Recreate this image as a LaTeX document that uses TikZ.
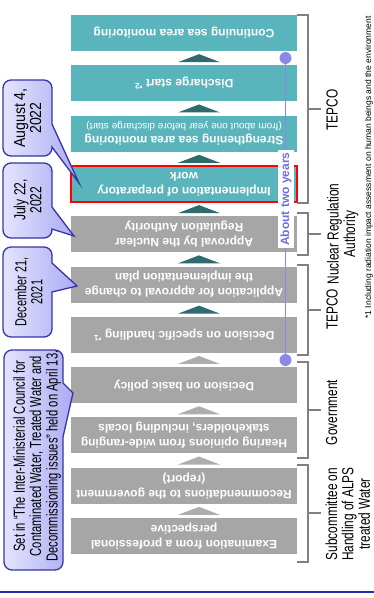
\documentclass[tikz,border=0pt]{standalone}
\usepackage{fontspec}
\setmainfont{Liberation Sans}
\usepackage{graphicx}
\usetikzlibrary{calc}
\definecolor{teal1}{HTML}{5AB4BC}
\definecolor{grey1}{HTML}{A6A6A6}
\definecolor{arrowteal}{HTML}{2E6B6E}
\definecolor{arrowgrey}{HTML}{ADADAD}
\definecolor{brk}{HTML}{808080}
\definecolor{lav}{HTML}{8A8AE6}
\definecolor{lavtext}{HTML}{7070DC}
\definecolor{cobord}{HTML}{3535A8}
\definecolor{coleft}{HTML}{E4E4FF}
\definecolor{coright}{HTML}{ABABF2}
\definecolor{bline}{HTML}{2A2AA2}
\newcommand\condtext[3]{\scalebox{#1}[1]{\fontsize{#2}{#2}\selectfont\begin{tabular}{@{}c@{}}#3\end{tabular}}}
\newcommand\callout[8]{%
 \path[callout] ({#1},{#2+8}) .. controls ({#1},{#2+3.6}) and ({#1+3.6},{#2}) .. ({#1+8},{#2})
  -- ({#3-8},{#2}) .. controls ({#3-3.6},{#2}) and ({#3},{#2+3.6}) .. ({#3},{#2+8})
  -- ({#3},{#5}) -- ({#7},{#8}) -- ({#3},{#6})
  -- ({#3},{#4-8}) .. controls ({#3},{#4-3.6}) and ({#3-3.6},{#4}) .. ({#3-8},{#4})
  -- ({#1+8},{#4}) .. controls ({#1+3.6},{#4}) and ({#1},{#4-3.6}) .. ({#1},{#4-8}) -- cycle;}
\newcommand\uptri[2]{\fill[#2] ($(#1)+(-21,4)$) -- ($(#1)+(0,-4)$) -- ($(#1)+(21,4)$) -- cycle;}
\newcommand\bracketat[3]{\draw[bracket] (297,#1) -- (308,#1) -- (308,#2) -- (297,#2); \draw[bracket] (308,#3) -- (321,#3);}
\tikzset{
 box/.style={minimum width=226pt, minimum height=36pt, inner sep=0pt, outer sep=0pt},
 tealbox/.style={box, fill=teal1},
 greybox/.style={box, fill=grey1},
 boxtxt/.style={rotate=180, text=white, font=\bfseries\fontsize{12pt}{15pt}\selectfont, align=center, inner sep=0pt},
 sidelbl/.style={rotate=90, inner sep=0pt},
 bracket/.style={draw=brk, line width=1.8pt},
 callout/.style={draw=cobord, line width=1.3pt, left color=coleft, right color=coright, line join=miter},
 dot/.style={circle, fill=lav, minimum size=12pt, inner sep=0pt},
}
\begin{document}
\begin{tikzpicture}[x=1pt,y=-1pt]
\useasboundingbox (0,0) rectangle (374,598);
% boxes
\node[tealbox] (b1) at (184,33) {};
\node[tealbox] (b2) at (184,83.3) {};
\node[tealbox] (b3) at (184,133.6) {};
\node[tealbox, draw=red, line width=2pt] (b4) at (184,184) {};
\node[greybox] (b5) at (184,234.2) {};
\node[greybox] (b6) at (184,284.5) {};
\node[greybox] (b7) at (184,334.8) {};
\node[greybox] (b8) at (184,385.1) {};
\node[greybox] (b9) at (184,435.4) {};
\node[greybox] (b10) at (184,485.7) {};
\node[greybox] (b11) at (184,536) {};
% box texts
\node[boxtxt] (t1) at (b1.center) {Continuing sea area monitoring};
\node[boxtxt] (t2) at (b2.center) {Discharge start \textsuperscript{*2}};
\node[boxtxt] (t3) at (b3.center) {Strengthening sea area monitoring\\[-2pt]\mdseries\fontsize{10pt}{12pt}\selectfont(from about one year before discharge start)};
\node[boxtxt] (t4) at (b4.center) {Implementation of preparatory\\work};
\node[boxtxt] (t5) at (b5.center) {Approval by the Nuclear\\Regulation Authority};
\node[boxtxt] (t6) at (b6.center) {Application for approval to change\\the implementation plan};
\node[boxtxt] (t7) at (b7.center) {Decision on specific handling \textsuperscript{*1}};
\node[boxtxt] (t8) at (b8.center) {Decision on basic policy};
\node[boxtxt] (t9) at (b9.center) {Hearing opinions from wide-ranging\\stakeholders, including locals};
\node[boxtxt] (t10) at (b10.center) {Recommendations to the government\\(report)};
\node[boxtxt] (t11) at (b11.center) {Examination from a professional\\perspective};
% arrows
\coordinate (a1) at ($(b1.south)!0.5!(b2.north)+(15,0)$);
\coordinate (a2) at ($(b2.south)!0.5!(b3.north)+(15,0)$);
\coordinate (a3) at ($(b3.south)!0.5!(b4.north)+(15,0)$);
\coordinate (a4) at ($(b4.south)!0.5!(b5.north)+(15,0)$);
\coordinate (a5) at ($(b5.south)!0.5!(b6.north)+(15,0)$);
\coordinate (a6) at ($(b6.south)!0.5!(b7.north)+(15,0)$);
\coordinate (a7) at ($(b7.south)!0.5!(b8.north)+(15,0)$);
\coordinate (a8) at ($(b8.south)!0.5!(b9.north)+(15,0)$);
\coordinate (a9) at ($(b9.south)!0.5!(b10.north)+(15,0)$);
\coordinate (a10) at ($(b10.south)!0.5!(b11.north)+(15,0)$);
\uptri{a1}{arrowteal}\uptri{a2}{arrowteal}\uptri{a3}{arrowteal}
\uptri{a4}{arrowteal}\uptri{a5}{arrowteal}\uptri{a6}{arrowteal}
\uptri{a7}{arrowgrey}\uptri{a8}{arrowgrey}\uptri{a9}{arrowgrey}\uptri{a10}{arrowgrey}
% brackets
\bracketat{15}{203}{109}
\bracketat{213}{255}{234}
\bracketat{265}{355}{310}
\bracketat{362}{458}{410}
\bracketat{465}{562}{513}
% side labels
\node[sidelbl] (l1) at (334.5,110) {\condtext{0.74}{16pt}{TEPCO}};
\node[sidelbl] (l2) at (343.5,234) {\condtext{0.74}{16pt}{Nuclear Regulation\\Authority}};
\node[sidelbl] (l3) at (334.5,309.5) {\condtext{0.74}{16pt}{TEPCO}};
\node[sidelbl] (l4) at (334,412.5) {\condtext{0.74}{16pt}{Government}};
\node[sidelbl] (l5) at (350,514) {\condtext{0.74}{16pt}{Subcommittee on\\Handling of ALPS\\treated Water}};
% about two years
\node[dot] (d1) at (285.5,58) {};
\node[dot] (d2) at (285.5,360) {};
\draw[lav, line width=1.3pt] (d1) -- (d2);
\node[rotate=90, fill=white, text=lavtext, font=\bfseries\fontsize{12pt}{14pt}\selectfont, inner xsep=2pt, inner ysep=2pt] (two) at (286,199) {About two years};
% callouts
\callout{3}{80}{52}{156}{124}{147}{79}{183}
\callout{3}{163}{52}{238}{207}{229}{74}{236}
\callout{3}{247}{52}{337}{263}{292}{77}{286}
\callout{4}{350}{63}{570}{383}{437}{73}{393}
\node[sidelbl] (c1) at (30,118) {\condtext{0.88}{16pt}{August 4,\\2022}};
\node[sidelbl] (c2) at (30,200) {\condtext{0.76}{16pt}{July 22,\\2022}};
\node[sidelbl] (c3) at (31,292) {\condtext{0.68}{16pt}{December 21,\\2021}};
\node[sidelbl] (c4) at (37.8,456) {\condtext{0.70}{16pt}{Set in “The Inter-Ministerial Council for\\Contaminated Water, Treated Water and\\Decommissioning issues” held on April 13.}};
% footnote
\node[sidelbl, font=\fontsize{8.5pt}{10pt}\selectfont] (fn) at (369,167.5) {*1 Including radiation impact assessment on human beings and the environment};
% bottom rule
\coordinate (r1) at (0,591.7);
\coordinate (r2) at (374,591.7);
\draw[bline, line width=2.2pt] (r1) -- (r2);
\end{tikzpicture}
\end{document}
